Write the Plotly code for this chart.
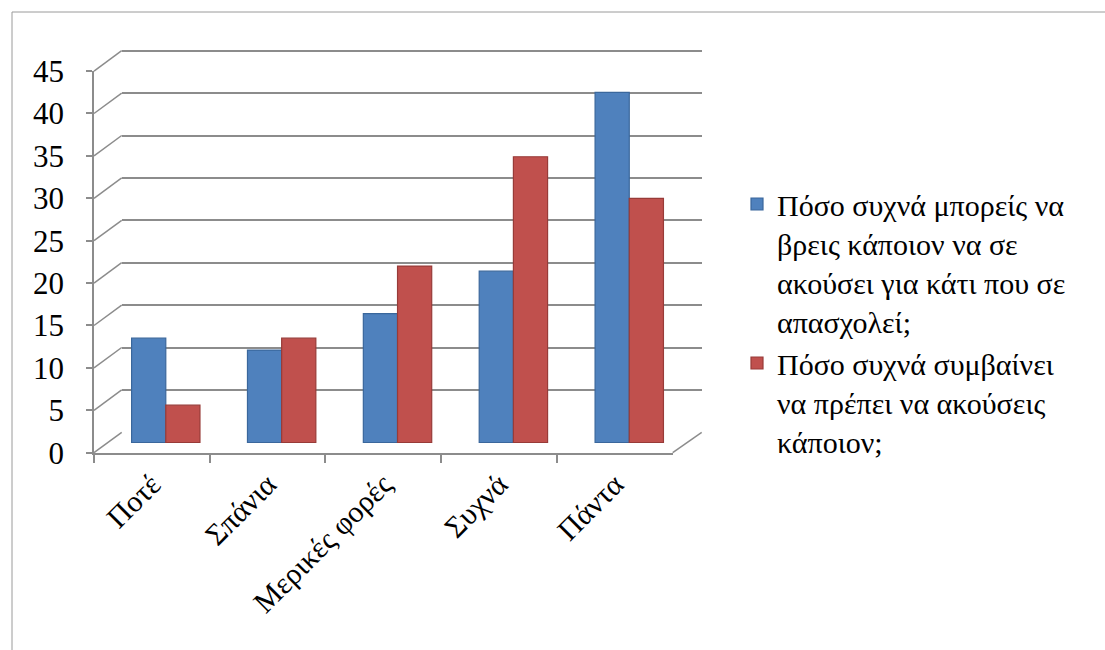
import plotly.graph_objects as go

categories = ["Ποτέ", "Σπάνια", "Μερικές φορές", "Συχνά", "Πάντα"]
series1_name = "Πόσο συχνά μπορείς να<br>βρεις κάποιον να σε<br>ακούσει για κάτι που σε<br>απασχολεί;"
series2_name = "Πόσο συχνά συμβαίνει<br>να πρέπει να ακούσεις<br>κάποιον;"
series1_values = [12.3, 10.9, 15.2, 20.2, 41.3]
series2_values = [4.4, 12.3, 20.8, 33.7, 28.8]
y_ticks = [0, 5, 10, 15, 20, 25, 30, 35, 40, 45]

W, H = 1105, 650
FONT = "Times New Roman"
GRID = "#8c8c8c"
K = 8.48  # px per unit

# plane geometry in pixels (front, middle, back)
FRONT = dict(x0=94.0, x1=672.7, y0=452.7)
BACK = dict(x0=121.7, x1=701.7, y0=432.3)
MID = dict(x0=(FRONT["x0"] + BACK["x0"]) / 2, x1=(FRONT["x1"] + BACK["x1"]) / 2,
           y0=(FRONT["y0"] + BACK["y0"]) / 2)
YMIN, YMAX = -0.05, 45.05
BACK_MAX = 46.0


def xdom(p):
    return [p["x0"] / W, p["x1"] / W]


def ydom(p, lo, hi):
    return [1 - (p["y0"] - lo * K) / H, 1 - (p["y0"] - hi * K) / H]


fig = go.Figure()

# back wall subplot (grid only)
fig.add_trace(go.Scatter(x=[0], y=[None], xaxis="x", yaxis="y", showlegend=False,
                         hoverinfo="skip", mode="markers", marker=dict(opacity=0)))
# front axis subplot (labels)
fig.add_trace(go.Scatter(x=categories, y=[None] * len(categories), xaxis="x2", yaxis="y2",
                         showlegend=False, hoverinfo="skip", mode="markers",
                         marker=dict(opacity=0)))
# bars in the middle plane
fig.add_trace(go.Bar(x=categories, y=series1_values, name=series1_name, xaxis="x3", yaxis="y3",
                     marker=dict(color="#4F81BD", line=dict(color="#3A679C", width=1.2))))
fig.add_trace(go.Bar(x=categories, y=series2_values, name=series2_name, xaxis="x3", yaxis="y3",
                     marker=dict(color="#C0504D", line=dict(color="#983B38", width=1.2))))

shapes = []
# diagonal connectors from front axis to back wall
for v in y_ticks:
    yf = FRONT["y0"] - v * K
    yb = BACK["y0"] - v * K
    shapes.append(dict(type="line", xref="paper", yref="paper",
                       x0=FRONT["x0"] / W, y0=1 - yf / H, x1=BACK["x0"] / W, y1=1 - yb / H,
                       line=dict(color=GRID, width=1.5)))
# right floor edge
shapes.append(dict(type="line", xref="paper", yref="paper",
                   x0=FRONT["x1"] / W, y0=1 - FRONT["y0"] / H, x1=BACK["x1"] / W, y1=1 - BACK["y0"] / H,
                   line=dict(color=GRID, width=1.5)))
# chart border
shapes.append(dict(type="rect", xref="paper", yref="paper",
                   x0=12 / W, y0=-0.05, x1=1.05, y1=1 - 12 / H,
                   line=dict(color="#9a9a9a", width=1), fillcolor="rgba(0,0,0,0)"))

fig.update_layout(
    template="none",
    width=W, height=H,
    margin=dict(l=0, r=0, t=0, b=0, pad=0, autoexpand=False),
    paper_bgcolor="white", plot_bgcolor="rgba(0,0,0,0)",
    font=dict(family=FONT, size=31, color="black"),
    barmode="group", bargap=0.41, bargroupgap=0.0,
    showlegend=True,
    legend=dict(x=737 / W, y=1 - 178 / H, xanchor="left", yanchor="top",
                font=dict(family=FONT, size=30, color="black"),
                valign="top", tracegroupgap=0, bgcolor="rgba(0,0,0,0)", borderwidth=0,
                itemclick=False, itemdoubleclick=False),
    shapes=shapes,
    xaxis=dict(domain=xdom(BACK), range=[0, 1], visible=False, fixedrange=True, automargin=False),
    yaxis=dict(domain=ydom(BACK, YMIN, BACK_MAX), range=[YMIN, BACK_MAX], showgrid=True,
               gridcolor=GRID, gridwidth=1.5, zeroline=False, tickvals=y_ticks,
               showticklabels=False, ticks="", showline=False, fixedrange=True, automargin=False),
    xaxis2=dict(domain=xdom(FRONT), anchor="y2", type="category", categoryorder="array",
                categoryarray=categories, range=[-0.5, len(categories) - 0.5],
                showline=True, linecolor=GRID, linewidth=1.5, ticks="outside", ticklen=8,
                tickcolor=GRID, tickwidth=1.5, tickson="boundaries", tickangle=-45,
                showgrid=False, zeroline=False, fixedrange=True, automargin=False,
                tickfont=dict(family=FONT, size=30, color="black")),
    yaxis2=dict(domain=ydom(FRONT, YMIN, YMAX), anchor="x2", range=[YMIN, YMAX], tickvals=y_ticks,
                showline=True, linecolor=GRID, linewidth=1.5, ticks="outside", ticklen=6,
                tickcolor=GRID, tickwidth=1.5, showgrid=False, zeroline=False,
                ticklabelstandoff=16, fixedrange=True, automargin=False,
                tickfont=dict(family=FONT, size=31, color="black")),
    xaxis3=dict(domain=xdom(MID), anchor="y3", type="category", categoryorder="array",
                categoryarray=categories, range=[-0.5, len(categories) - 0.5],
                visible=False, fixedrange=True, automargin=False),
    yaxis3=dict(domain=ydom(MID, YMIN, YMAX), anchor="x3", range=[YMIN, YMAX], visible=False,
                fixedrange=True, automargin=False),
)

fig.write_html("out.html")
